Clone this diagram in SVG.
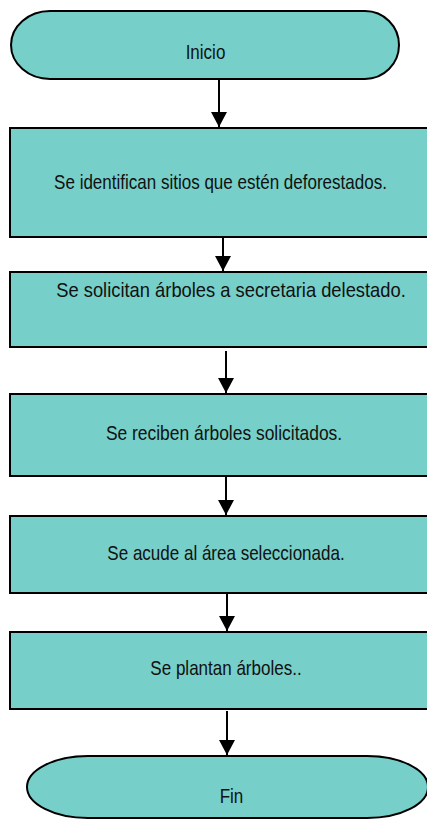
<svg xmlns="http://www.w3.org/2000/svg" width="427" height="819" viewBox="0 0 427 819">
<defs>
<style>
.node{fill:#76cfc8;stroke:#000;stroke-width:2}
.lbl{font-family:"Liberation Sans",Arial,sans-serif;font-size:20.5px;fill:#111;text-anchor:middle}
.conn line{stroke:#000;stroke-width:2}
</style>
<marker id="ah" viewBox="0 0 15 16" refX="15" refY="8" markerWidth="15" markerHeight="16" markerUnits="userSpaceOnUse" orient="auto">
<path d="M0,0 L15,8 L0,16 Z" fill="#000"/>
</marker>
</defs>
<rect width="427" height="819" fill="#fff"/>
<g id="inicio">
<path class="node" d="M50,11 H365 A34,34 0 0 1 365,79 H50 A39,34 0 0 1 50,11 Z"/>
<text class="lbl" transform="translate(205.5,59) scale(0.83,1)">Inicio</text>
</g>
<g id="paso1">
<rect class="node" x="10" y="128" width="430" height="109"/>
<text class="lbl" transform="translate(220.5,189) scale(0.83,1)">Se identifican sitios que estén deforestados.</text>
</g>
<g id="paso2">
<rect class="node" x="10" y="272" width="430" height="75"/>
<text class="lbl" transform="translate(231,297) scale(0.895,1)">Se solicitan árboles a secretaria delestado.</text>
</g>
<g id="paso3">
<rect class="node" x="10" y="394" width="430" height="82"/>
<text class="lbl" transform="translate(224,440) scale(0.85,1)">Se reciben árboles solicitados.</text>
</g>
<g id="paso4">
<rect class="node" x="10" y="516" width="430" height="77"/>
<text class="lbl" transform="translate(226,560) scale(0.83,1)">Se acude al área seleccionada.</text>
</g>
<g id="paso5">
<rect class="node" x="10" y="632" width="430" height="77"/>
<text class="lbl" transform="translate(226,675) scale(0.83,1)">Se plantan árboles..</text>
</g>
<g id="fin">
<path class="node" d="M88,756 H367 A61,31 0 0 1 367,818 H88 A61,31 0 0 1 88,756 Z"/>
<text class="lbl" transform="translate(231.5,803) scale(0.83,1)">Fin</text>
</g>
<g id="connectors" class="conn">
<line x1="219" y1="80" x2="219" y2="127" marker-end="url(#ah)"/>
<line x1="223" y1="238" x2="223" y2="271" marker-end="url(#ah)"/>
<line x1="226" y1="351" x2="226" y2="393" marker-end="url(#ah)"/>
<line x1="226" y1="477" x2="226" y2="515" marker-end="url(#ah)"/>
<line x1="227" y1="594" x2="227" y2="631" marker-end="url(#ah)"/>
<line x1="227" y1="711" x2="227" y2="755" marker-end="url(#ah)"/>
</g>
</svg>
